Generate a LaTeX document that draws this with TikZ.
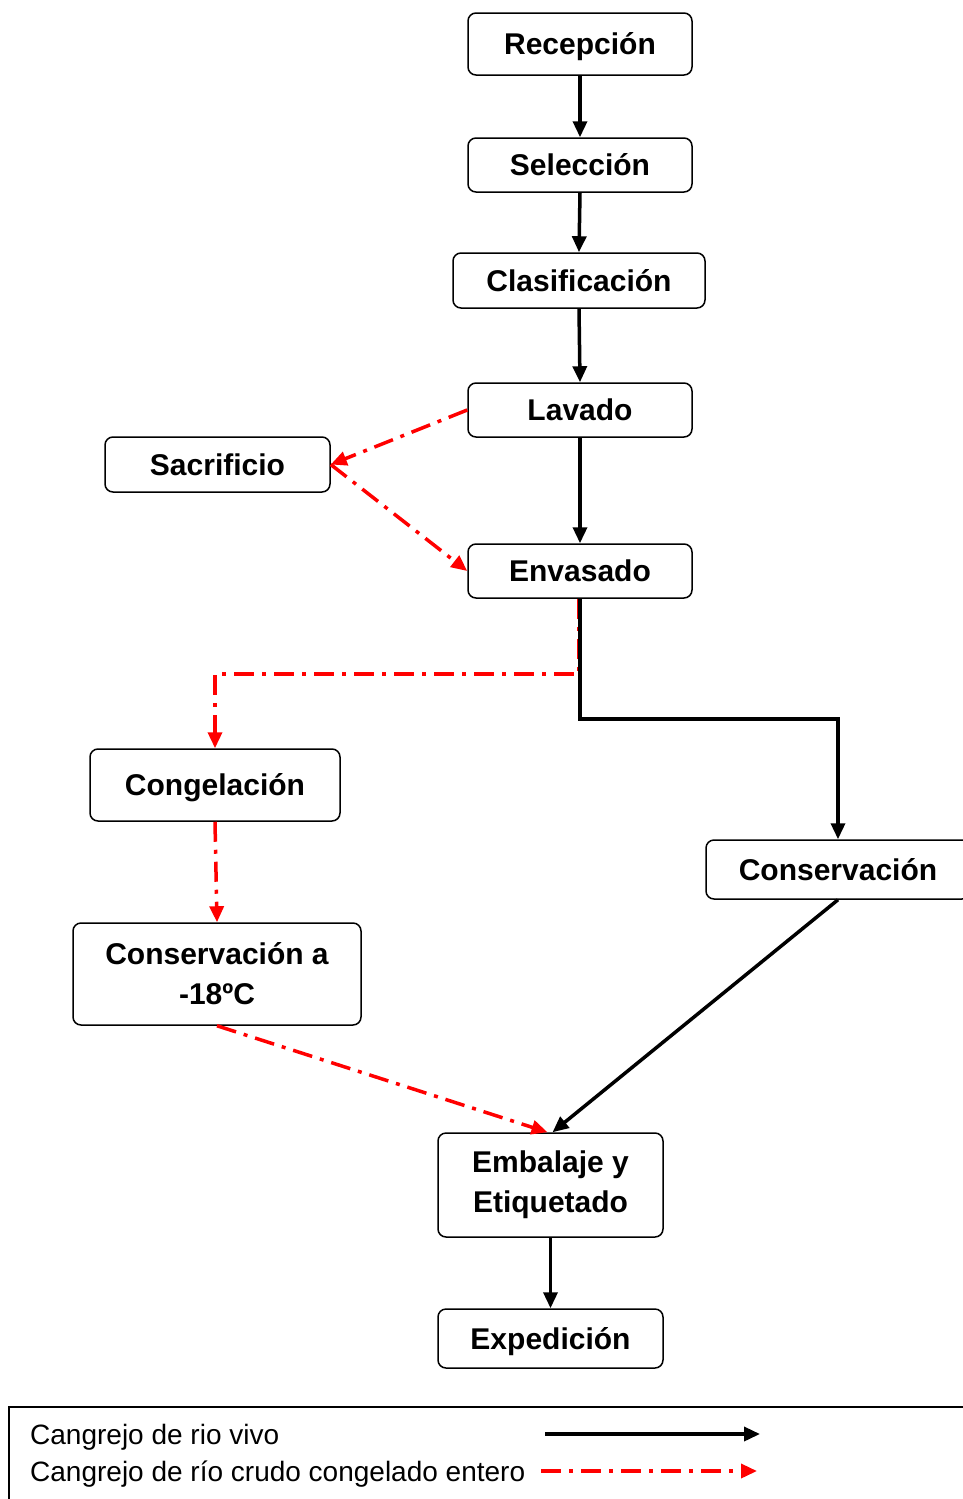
\documentclass[tikz,border=0pt]{standalone}
\usepackage{fontspec}
\setmainfont{Liberation Sans}
\usetikzlibrary{arrows.meta}
\begin{document}
\begin{tikzpicture}[x=1pt,y=-1pt,
  box/.style={draw, line width=1.5pt, rounded corners=8pt, align=center,
    font=\fontsize{30}{40}\selectfont\bfseries, inner sep=0pt},
  onebox/.style={box, text height=21.5pt, text depth=0pt},
  flow/.style={line width=3.5pt, -{Triangle[length=16pt,width=14pt]}},
  frozen/.style={flow, red, dash pattern=on 20pt off 8pt on 4pt off 8pt},
  legendtext/.style={font=\fontsize{28}{34}\selectfont, inner sep=0pt, anchor=base west},
]
\useasboundingbox (0,0) rectangle (963,1499);

% process steps
\node[onebox, minimum width=224pt, minimum height=62pt] (rec) at (580,44) {Recepción};
\node[onebox, minimum width=224pt, minimum height=54pt] (sel) at (580,165) {Selección};
\node[onebox, minimum width=252pt, minimum height=55pt] (cla) at (579,280.5) {Clasificación};
\node[onebox, minimum width=224pt, minimum height=54pt] (lav) at (580,410) {Lavado};
\node[onebox, minimum width=225pt, minimum height=55pt] (sac) at (217.5,464.5) {Sacrificio};
\node[onebox, minimum width=224pt, minimum height=54pt] (env) at (580,571) {Envasado};
\node[onebox, minimum width=250pt, minimum height=72pt] (cong) at (215,785) {Congelación};
\node[onebox, minimum width=264pt, minimum height=59pt] (cons) at (838,869.5) {Conservación};
\node[box, minimum width=288pt, minimum height=102pt] (c18) at (217,974) {Conservación a\\-18ºC};
\node[box, minimum width=225pt, minimum height=104pt] (emb) at (550.5,1185) {Embalaje y\\Etiquetado};
\node[onebox, minimum width=225pt, minimum height=59pt] (exp) at (550.5,1338.5) {Expedición};

% frozen product route (drawn first, under the live route)
\draw[frozen] (lav.west) -- (sac.east);
\draw[frozen] (sac.east) -- (env.west);
\draw[frozen] ([xshift=-1.5pt]env.south) -- ++(0,75) -| (cong.north);
\draw[frozen] (cong.south) -- (c18.north);
\draw[frozen] (c18.south) -- ([xshift=-3pt]emb.north);

% live product route
\draw[flow] (rec.south) -- (sel.north);
\draw[flow] (sel.south) -- (cla.north);
\draw[flow] (cla.south) -- (lav.north);
\draw[flow] (lav.south) -- (env.south |- env.north);
\draw[flow] (env.south) -- ++(0,120) -| (cons.north);
\draw[flow] (cons.south) -- ([xshift=2pt]emb.north);
\draw[flow] (emb.south) -- (exp.north);

% legend
\draw[line width=1.5pt] (9,1407) rectangle (985,1520);
\node[legendtext] (l1) at (30,1444) {Cangrejo de rio vivo};
\node[legendtext] (l2) at (30,1481) {Cangrejo de río crudo congelado entero};
\coordinate (a1s) at (545,1434);
\coordinate (a1e) at (760,1434);
\coordinate (a2s) at (541,1471);
\coordinate (a2e) at (757,1471);
\draw[flow] (a1s) -- (a1e);
\draw[frozen] (a2s) -- (a2e);
\end{tikzpicture}
\end{document}
